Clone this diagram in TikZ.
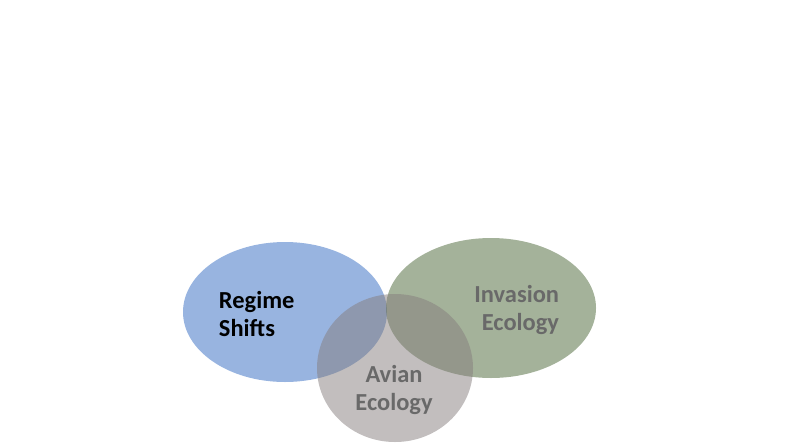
\documentclass[tikz,border=0pt]{standalone}
\usepackage{fontspec}
\setmainfont{Carlito}
\usepackage{tikz}
\usetikzlibrary{positioning,calc}
\definecolor{regimeblue}{RGB}{49,105,193}
\definecolor{invasiongreen}{RGB}{73,101,53}
\definecolor{aviangray}{RGB}{133,125,125}
\definecolor{labelgray}{RGB}{105,105,105}
\tikzset{
	setfill/.style={fill opacity=0.5},
	setlabel/.style={font=\bfseries\fontsize{17.4}{20}\selectfont}
}

\begin{document}
\begin{tikzpicture}
	\useasboundingbox (0,0) rectangle (19.75,11.1);
	\fill [regimeblue,setfill] (7.125,3.3) ellipse [x radius=2.55, y radius=1.75];
	\fill [invasiongreen,setfill] (12.275,3.4) ellipse [x radius=2.625, y radius=1.75];
	\fill [aviangray,setfill] (9.875,1.9) ellipse [x radius=1.95, y radius=1.85];
	\node [setlabel,align=left,anchor=west] (regime) at (5.35,3.25) {Regime\\Shifts};
	\node [setlabel,align=right,anchor=east,labelgray] (invasion) at (14.1,3.35) {Invasion\\Ecology};
	\node [setlabel,align=center,labelgray] (avian) at (9.85,1.35) {Avian\\Ecology};
\end{tikzpicture}
\end{document}
